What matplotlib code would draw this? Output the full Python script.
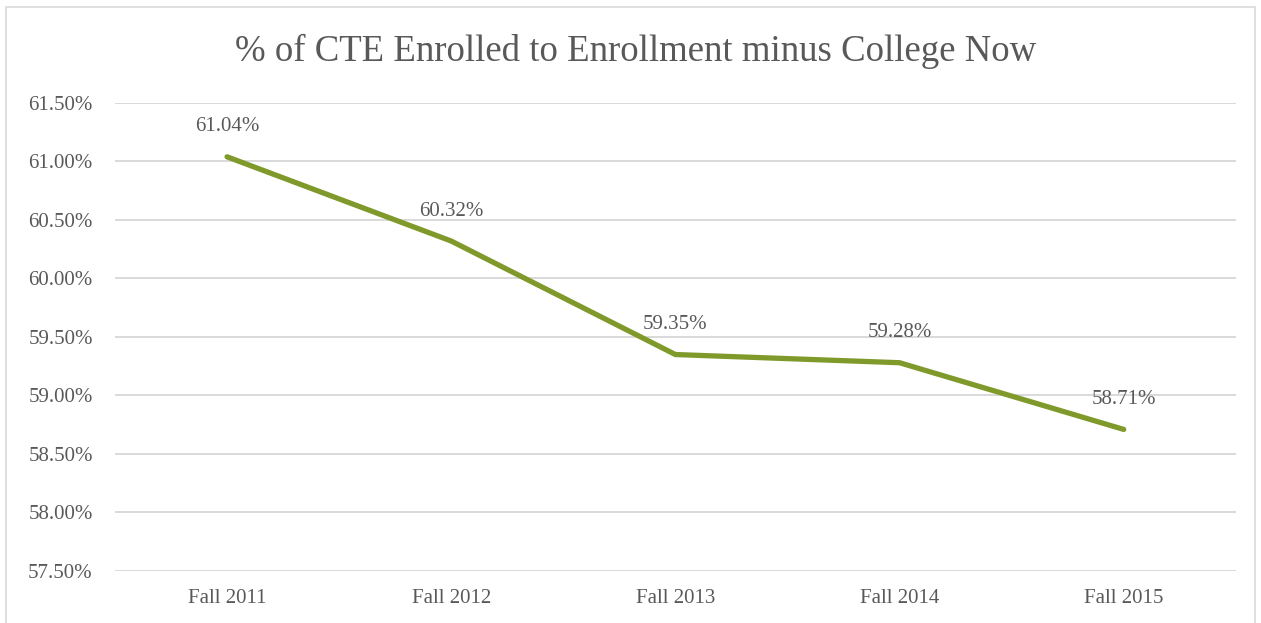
import matplotlib
matplotlib.use("Agg")
import matplotlib.pyplot as plt
from matplotlib.patches import Rectangle

# CTE enrollment share (percent), College Now excluded
terms = ["Fall 2011", "Fall 2012", "Fall 2013", "Fall 2014", "Fall 2015"]
pct = [61.04, 60.32, 59.35, 59.28, 58.71]
yticks = [57.5, 58.0, 58.5, 59.0, 59.5, 60.0, 60.5, 61.0, 61.5]

grey = "#595959"
plt.rcParams["font.family"] = ["Liberation Serif", "DejaVu Serif"]

fig = plt.figure(figsize=(12.61, 6.23), dpi=100)
ax = fig.add_axes([0.0912, 0.0835, 0.8888, 0.7512])

# outer chart frame
fig.patches.append(Rectangle((6 / 1261, -0.01), 1249 / 1261, 1 - 7 / 623 + 0.01,
                             transform=fig.transFigure, fill=False,
                             edgecolor="#D9D9D9", linewidth=1.2))

x = list(range(len(terms)))
ax.plot(x, pct, color="#7F9A2A", linewidth=3.8, solid_capstyle="round", zorder=3)

for xi, v in zip(x, pct):
    ax.annotate("%.2f%%" % v, (xi, v), xytext=(0, 21.5), textcoords="offset points",
                ha="center", va="center", fontsize=15, color=grey)

ax.set_xlim(-0.5, len(terms) - 0.5)
ax.set_ylim(57.5, 61.5)
ax.set_yticks(yticks)
ax.set_yticklabels(["%.2f%%" % t for t in yticks])
ax.set_xticks(x)
ax.set_xticklabels(terms)
ax.tick_params(axis="both", length=0, labelsize=15, labelcolor=grey)
ax.tick_params(axis="y", pad=16)
ax.tick_params(axis="x", pad=13)
ax.grid(axis="y", color="#D9D9D9", linewidth=1.4)
ax.set_axisbelow(True)
for s in ax.spines.values():
    s.set_visible(False)

fig.text(0.504, 0.918, "% of CTE Enrolled to Enrollment minus College Now",
         ha="center", va="center", fontsize=26.5, color=grey)

fig.savefig("out.png", dpi=100)
